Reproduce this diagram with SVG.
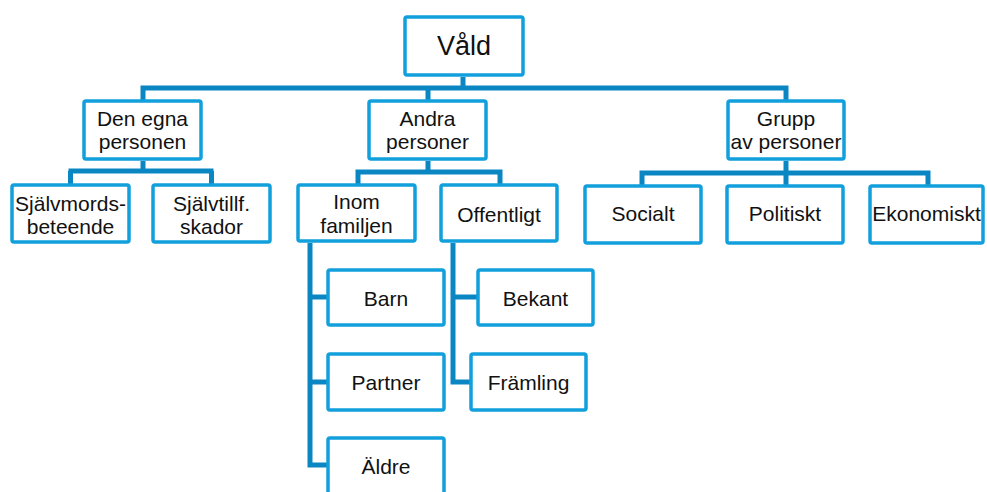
<svg xmlns="http://www.w3.org/2000/svg" width="987" height="492" viewBox="0 0 987 492">
<style>
.box{fill:#fff;stroke:#12A0DC;stroke-width:3.5}
.t{font-family:"Liberation Sans",Arial,sans-serif;font-size:21px;fill:#111;text-anchor:middle}
.c{fill:none;stroke:#0A87C3;stroke-width:5;stroke-linejoin:miter}
</style>
<rect width="987" height="492" fill="#fff"/>
<g id="connectors">
<path class="c" d="M463 77V88M140.5 88H788.5M143 88V100M428 88V100M786 88V100"/>
<path class="c" d="M143 161V171M68.5 171H213.5M70.5 171V184M211.5 171V184"/>
<path class="c" d="M428 161V172M355.5 172H502.5M358 172V184M500 172V184"/>
<path class="c" d="M786 161V173M639.5 173H930.5M642 173V185M786 173V185M928 173V185"/>
<path class="c" d="M310 243V467.5M310 297H327M310 382H327M310 465H327"/>
<path class="c" d="M453 243V384.5M453 297H477M453 382H470"/>
</g>
<g id="vald"><rect class="box" x="405" y="17" width="118" height="58" rx="2"/><text class="t" x="464" y="55" style="font-size:27px">Våld</text></g>
<g id="den-egna"><rect class="box" x="84" y="101" width="117" height="58" rx="2"/><text class="t" x="142.5" y="126">Den egna</text><text class="t" x="142.5" y="149">personen</text></g>
<g id="andra"><rect class="box" x="369" y="101" width="117" height="58" rx="2"/><text class="t" x="427.5" y="126">Andra</text><text class="t" x="427.5" y="149">personer</text></g>
<g id="grupp"><rect class="box" x="728" y="101" width="116" height="58" rx="2"/><text class="t" x="786" y="126">Grupp</text><text class="t" x="786" y="149">av personer</text></g>
<g id="sjalvmords"><rect class="box" x="12" y="185" width="117" height="57" rx="2"/><text class="t" x="70.5" y="211">Självmords-</text><text class="t" x="70.5" y="234">beteende</text></g>
<g id="sjalvtillf"><rect class="box" x="153" y="185" width="117" height="57" rx="2"/><text class="t" x="211.5" y="211">Självtillf.</text><text class="t" x="211.5" y="234">skador</text></g>
<g id="inom"><rect class="box" x="298" y="185" width="117" height="56" rx="2"/><text class="t" x="356.5" y="209">Inom</text><text class="t" x="356.5" y="233">familjen</text></g>
<g id="offentligt"><rect class="box" x="441" y="185" width="116" height="56" rx="2"/><text class="t" x="499" y="222">Offentligt</text></g>
<g id="socialt"><rect class="box" x="585" y="186" width="116" height="57" rx="2"/><text class="t" x="643" y="221">Socialt</text></g>
<g id="politiskt"><rect class="box" x="727" y="186" width="116" height="57" rx="2"/><text class="t" x="785" y="221">Politiskt</text></g>
<g id="ekonomiskt"><rect class="box" x="870" y="186" width="113" height="57" rx="2"/><text class="t" x="926.5" y="221">Ekonomiskt</text></g>
<g id="barn"><rect class="box" x="328" y="270" width="116" height="55" rx="2"/><text class="t" x="386" y="306">Barn</text></g>
<g id="partner"><rect class="box" x="328" y="354" width="116" height="56" rx="2"/><text class="t" x="386" y="390">Partner</text></g>
<g id="aldre"><rect class="box" x="328" y="438" width="116" height="60" rx="2"/><text class="t" x="386" y="474">Äldre</text></g>
<g id="bekant"><rect class="box" x="478" y="270" width="115" height="55" rx="2"/><text class="t" x="535.5" y="306">Bekant</text></g>
<g id="framling"><rect class="box" x="471" y="354" width="115" height="56" rx="2"/><text class="t" x="528.5" y="390">Främling</text></g>
</svg>
